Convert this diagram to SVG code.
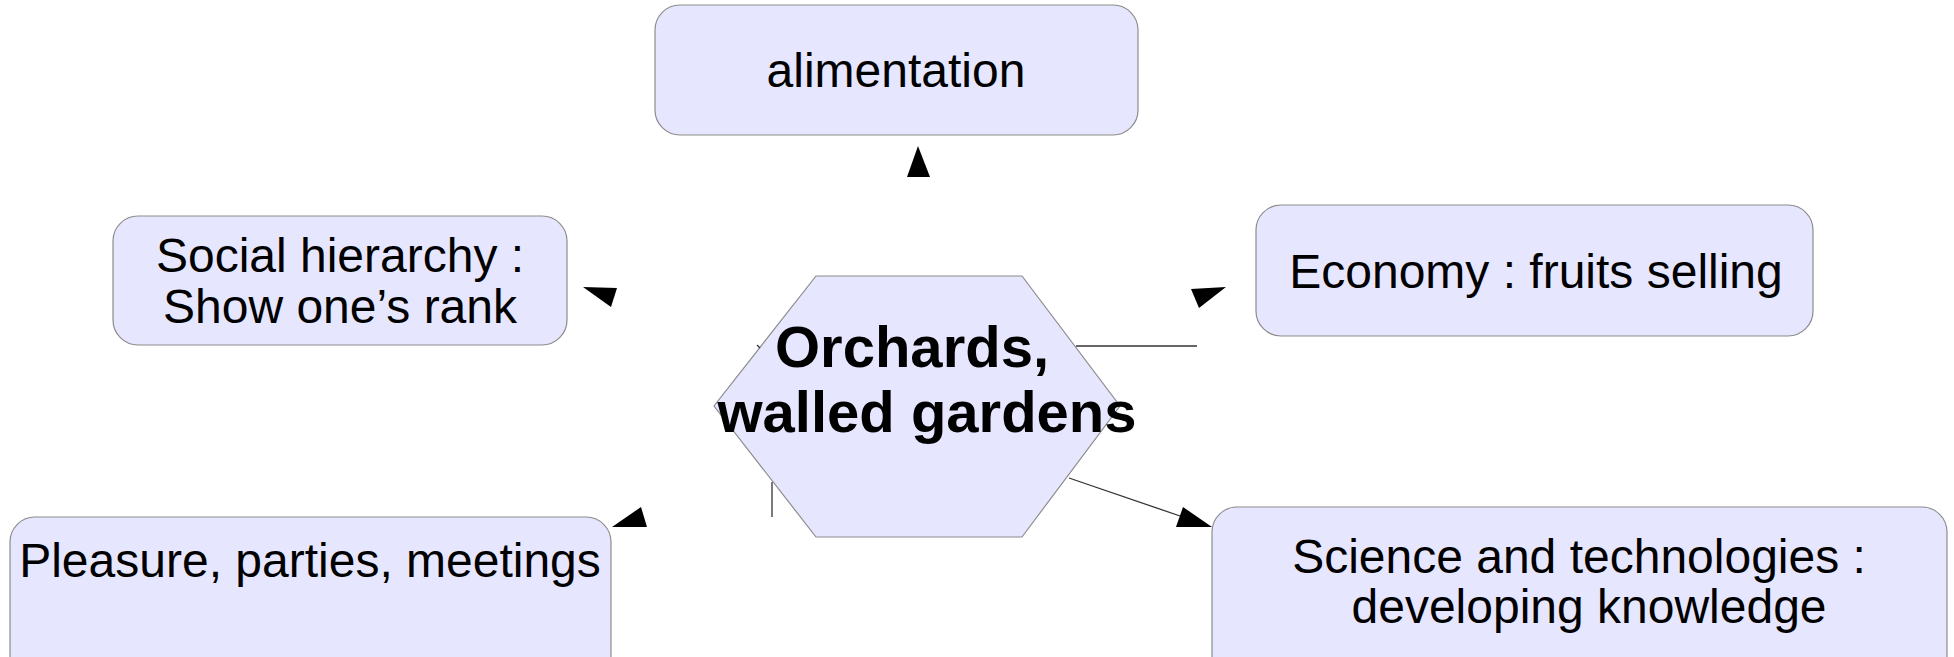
<svg xmlns="http://www.w3.org/2000/svg" width="1954" height="657" viewBox="0 0 1954 657">
<style>
.box{fill:#e6e6ff;stroke:#8c8c8c;stroke-width:1.2}
.t{font-family:"Liberation Sans",Arial,sans-serif;font-size:48px;fill:#000;text-anchor:middle}
.tb{font-family:"Liberation Sans",Arial,sans-serif;font-size:58px;font-weight:bold;fill:#000;text-anchor:middle}
.ln{stroke:#333;stroke-width:1.3;fill:none}
.ah{fill:#000}
</style>
<rect width="1954" height="657" fill="#fff"/>
<g id="center">
<polygon class="box" points="816,276 1022,276 1120,406 1022,537 816,537 714,406"/>
<text class="tb" x="912" y="367">Orchards,</text>
<text class="tb" x="927" y="432">walled gardens</text>
</g>
<g id="alimentation">
<rect class="box" x="655" y="5" width="483" height="130" rx="25"/>
<text class="t" x="896" y="87">alimentation</text>
</g>
<g id="social">
<rect class="box" x="113" y="216" width="454" height="129" rx="25"/>
<text class="t" x="340" y="272">Social hierarchy :</text>
<text class="t" x="340" y="323">Show one’s rank</text>
</g>
<g id="economy">
<rect class="box" x="1256" y="205" width="557" height="131" rx="25"/>
<text class="t" x="1536" y="288">Economy : fruits selling</text>
</g>
<g id="pleasure">
<rect class="box" x="10" y="517" width="601" height="170" rx="25"/>
<text class="t" x="310" y="577">Pleasure, parties, meetings</text>
</g>
<g id="science">
<rect class="box" x="1212" y="507" width="735" height="180" rx="25"/>
<text class="t" x="1579" y="573">Science and technologies :</text>
<text class="t" x="1589" y="623">developing knowledge</text>
</g>
<g id="connectors">
<line class="ln" x1="1076" y1="346" x2="1197" y2="346"/>
<line class="ln" x1="1069" y1="478" x2="1183" y2="517"/>
<line class="ln" x1="772" y1="482" x2="772" y2="517"/>
<line class="ln" x1="757" y1="345" x2="760" y2="348"/>
<polygon class="ah" points="918,146 907,177 930,177"/>
<polygon class="ah" points="583,287 617,288 611,307"/>
<polygon class="ah" points="612,527 641,507 647,527"/>
<polygon class="ah" points="1226,287 1191,289 1199,308"/>
<polygon class="ah" points="1212,527 1183,507 1176,527"/>
</g>
</svg>
